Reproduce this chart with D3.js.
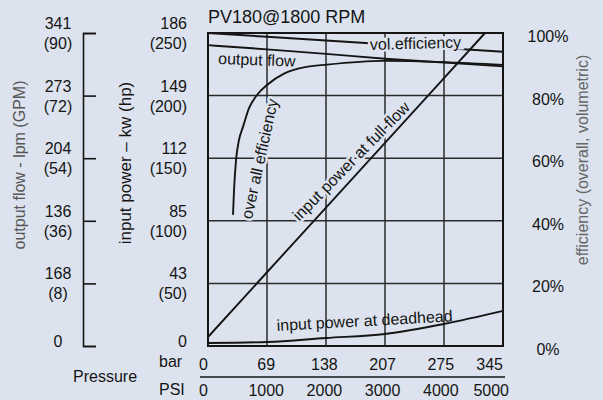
<!DOCTYPE html>
<html><head><meta charset="utf-8">
<script src="https://cdn.jsdelivr.net/npm/d3@7"></script>
<style>
html,body{margin:0;padding:0;background:#dce3ee;}
svg{display:block;font-family:"Liberation Sans",Arial,sans-serif;}
</style></head>
<body><svg id="c" width="603" height="400"></svg>
<script>
// ---- data ----
const psiTicks = [0, 1000, 2000, 3000, 4000, 5000];
const barLabels = ["0", "69", "138", "207", "275", "345"];
const gpmTicks = [0, 18, 36, 54, 72, 90];
const lpmLabels = ["0", "168", "136", "204", "273", "341"];
const gpmLabels = ["", "(8)", "(36)", "(54)", "(72)", "(90)"];
const hpTicks = [0, 50, 100, 150, 200, 250];
const kwLabels = ["0", "43", "85", "112", "149", "186"];
const hpLabels = ["", "(50)", "(100)", "(150)", "(200)", "(250)"];
const effTicks = [0, 20, 40, 60, 80, 100];

// curves (x = PSI)
const volEffPsi = [0, 1000, 2000, 3000, 4000, 5000];
const volEff    = [100, 98.8, 97.6, 96.4, 95.2, 94];          // %
const flowPsi   = [0, 1000, 2000, 3000, 4000, 5000];
const flowGpm   = [86.5, 85.3, 84.0, 82.6, 81.5, 80.4];        // GPM
const oaPsi     = [424, 441, 475, 525, 593, 695, 831, 1000, 1305, 1644, 2017, 2966, 4000, 5000];
const oaEff     = [41.9, 49.8, 59.4, 65.8, 70.0, 76.0, 80.2, 83.4, 87.2, 89.1, 89.9, 91.1, 90.7, 89.8]; // %
const fullPsi   = [0, 1000, 2000, 3000, 4000, 4695];
const fullHp    = [7.2, 58.9, 110.6, 162.3, 214.0, 250];       // hp
const deadPsi   = [0, 1000, 2000, 3000, 4000, 5000];
const deadHp    = [2.4, 3.2, 6.4, 9.6, 17.6, 28.0];            // hp

// ---- layout ----
const svg = d3.select("#c");
const BG = "#dce3ee";
const X0 = 208, X1 = 503, Y0 = 346, Y1 = 33;
const x = d3.scaleLinear().domain([0, 5000]).range([X0, X1]);
const yEff = d3.scaleLinear().domain([0, 100]).range([Y0, Y1]);
const yFlow = d3.scaleLinear().domain([0, 90]).range([Y0, Y1]);
const yPow = d3.scaleLinear().domain([0, 250]).range([Y0, Y1]);
const ink = "#151515";

// grid
const g = svg.append("g");
g.selectAll("line.v").data(psiTicks.slice(1, -1)).join("line")
  .attr("x1", d => x(d)).attr("x2", d => x(d)).attr("y1", Y1).attr("y2", Y0)
  .attr("stroke", "#2a2a2a").attr("stroke-width", 1.5);
g.selectAll("line.h").data(effTicks.slice(1, -1)).join("line")
  .attr("x1", X0).attr("x2", X1).attr("y1", d => yEff(d)).attr("y2", d => yEff(d))
  .attr("stroke", "#2a2a2a").attr("stroke-width", 1.5);

// curves
function curve(xs, ys, yScale, c) {
  const line = d3.line().x(d => x(d[0])).y(d => yScale(d[1])).curve(c || d3.curveMonotoneX);
  svg.append("path").datum(xs.map((v, i) => [v, ys[i]]))
    .attr("d", line).attr("fill", "none").attr("stroke", ink).attr("stroke-width", 1.9);
}
curve(volEffPsi, volEff, yEff, d3.curveLinear);
curve(flowPsi, flowGpm, yFlow);
curve(oaPsi, oaEff, yEff);
curve(fullPsi, fullHp, yPow, d3.curveLinear);
curve(deadPsi, deadHp, yPow);

// frame
svg.append("rect").attr("x", X0).attr("y", Y1).attr("width", X1 - X0).attr("height", Y0 - Y1)
  .attr("fill", "none").attr("stroke", ink).attr("stroke-width", 2);

// curve labels
function label(t, px, py, rot, opts) {
  opts = opts || {};
  const grp = svg.append("g").attr("transform", `translate(${px},${py}) rotate(${rot})`);
  const el = grp.append("text")
    .attr("text-anchor", opts.anchor || "middle").attr("font-size", opts.size || 16)
    .attr("fill", ink).text(t);
  if (opts.box) {
    const b = el.node().getBBox();
    grp.insert("rect", "text").attr("x", b.x - 2).attr("y", b.y + 2).attr("width", b.width + 5)
      .attr("height", b.height - 3).attr("fill", BG);
  }
  if (opts.halo) el.attr("stroke", BG).attr("stroke-width", opts.halo).attr("paint-order", "stroke").attr("stroke-linejoin", "round");
}
label("vol.efficiency", 370, 50, -1.5, {anchor: "start", box: true});
label("output flow", 218, 64, 2, {anchor: "start"});
label("over all efficiency", 265, 160, -77.5, {halo: 5});
label("input power at full-flow", 355, 165, -45.5, {halo: 5});
label("input power at deadhead", 277, 331, -3.2, {anchor: "start"});

// title
svg.append("text").attr("x", X0).attr("y", 23).attr("font-size", 18).attr("fill", ink).text("PV180@1800 RPM");

// left bracket axis
const bracket = d3.axisRight(yFlow).tickValues(gpmTicks).tickSize(13).tickSizeOuter(13).tickFormat("");
const ba = svg.append("g").attr("transform", "translate(83,0)").call(bracket);
ba.selectAll("path,line").attr("stroke", ink).attr("stroke-width", 1.6);

// flow labels (centered)
const fl = svg.append("g").attr("font-size", 16).attr("fill", ink).attr("text-anchor", "middle");
gpmTicks.forEach((v, i) => {
  if (gpmLabels[i]) {
    fl.append("text").attr("x", 58).attr("y", yFlow(v) - 4).text(lpmLabels[i]);
    fl.append("text").attr("x", 58).attr("y", yFlow(v) + 16).text(gpmLabels[i]);
  } else {
    fl.append("text").attr("x", 58).attr("y", yFlow(v) + 1).text(lpmLabels[i]);
  }
});
// power labels (right aligned)
const pl = svg.append("g").attr("font-size", 16).attr("fill", ink).attr("text-anchor", "end");
hpTicks.forEach((v, i) => {
  if (hpLabels[i]) {
    pl.append("text").attr("x", 187).attr("y", yPow(v) - 4).text(kwLabels[i]);
    pl.append("text").attr("x", 187).attr("y", yPow(v) + 16).text(hpLabels[i]);
  } else {
    pl.append("text").attr("x", 187).attr("y", yPow(v) + 1).text(kwLabels[i]);
  }
});
// right efficiency labels
const el = svg.append("g").attr("font-size", 16).attr("fill", ink).attr("text-anchor", "middle");
effTicks.forEach(v => el.append("text").attr("x", 548).attr("y", yEff(v) + 9).text(v + "%"));

// axis titles
svg.append("text").attr("transform", "translate(25,165) rotate(-90)").attr("text-anchor", "middle")
  .attr("font-size", 16).attr("fill", "#555").text("output flow - lpm (GPM)");
svg.append("text").attr("transform", "translate(131,163) rotate(-90)").attr("text-anchor", "middle")
  .attr("font-size", 17).attr("fill", ink).text("input power \u2013 kw (hp)");
svg.append("text").attr("transform", "translate(588,160) rotate(-90)").attr("text-anchor", "middle")
  .attr("font-size", 16).attr("fill", "#666").text("efficiency (overall, volumetric)");

// pressure axes
const px = svg.append("g").attr("font-size", 16).attr("fill", ink);
psiTicks.forEach((v, i) => {
  const anchor = i === 0 ? "end" : (i === psiTicks.length - 1 ? "end" : "middle");
  const xb = i === psiTicks.length - 1 ? x(v) : x(v) - (i === 0 ? 0 : i * 0.8);
  px.append("text").attr("x", xb).attr("y", 370).attr("text-anchor", anchor).text(barLabels[i]);
  const xp = i === psiTicks.length - 1 ? x(v) + 6 : x(v) - (i === 0 ? 0 : i * 0.8);
  px.append("text").attr("x", xp).attr("y", 396).attr("text-anchor", anchor).text(d3.format("d")(v));
});
svg.append("line").attr("x1", 200).attr("x2", 505).attr("y1", 377).attr("y2", 377)
  .attr("stroke", ink).attr("stroke-width", 1.3);
px.append("text").attr("x", 159).attr("y", 367).text("bar");
px.append("text").attr("x", 159).attr("y", 395).text("PSI");
px.append("text").attr("x", 73).attr("y", 382).text("Pressure");
</script></body></html>
